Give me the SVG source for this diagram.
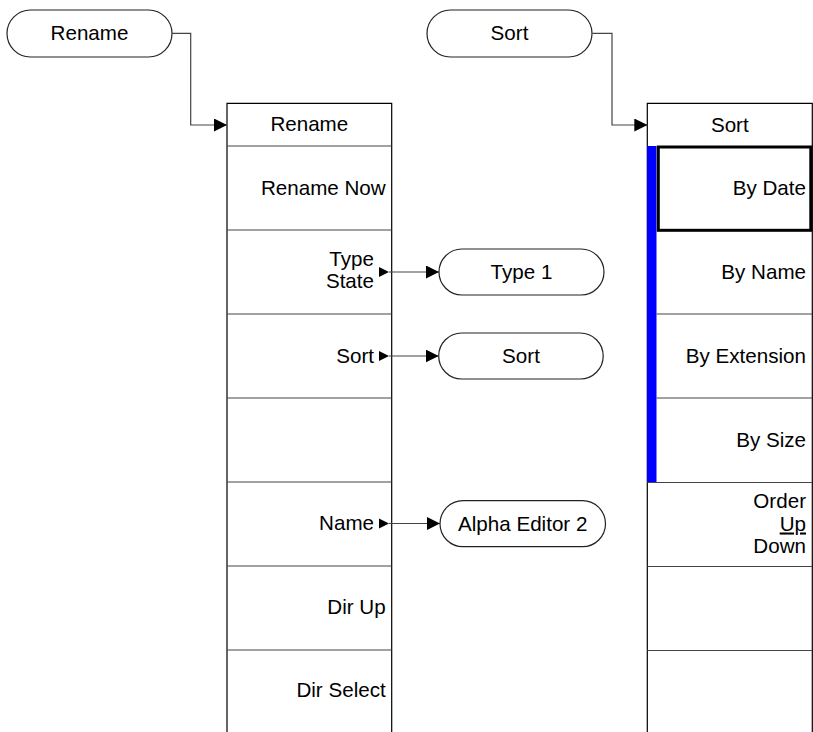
<svg xmlns="http://www.w3.org/2000/svg" width="813" height="732" viewBox="0 0 813 732">
<style>
text{font-family:"Liberation Sans",Arial,sans-serif;font-size:20.6px;fill:#000}
.c{text-anchor:middle}
.r{text-anchor:end}
.pill{fill:#fff;stroke:#222;stroke-width:1.2}
.col{fill:none;stroke:#000;stroke-width:1.2}
.div{stroke:#444;stroke-width:1.2}
.conn{fill:none;stroke:#444;stroke-width:1.2}
.tri{fill:#000}
</style>
<defs>
<marker id="ah" markerWidth="13" markerHeight="13" refX="13" refY="6.5" orient="auto" markerUnits="userSpaceOnUse">
<path d="M0,0 L13,6.5 L0,13 Z" fill="#000"/>
</marker>
</defs>

<g id="pill-rename">
<rect class="pill" x="7" y="10" width="165" height="47" rx="23.5"/>
<text class="c" x="89.5" y="40">Rename</text>
</g>

<g id="pill-sort-top">
<rect class="pill" x="427" y="10" width="165" height="47" rx="23.5"/>
<text class="c" x="509.5" y="40">Sort</text>
</g>

<g id="menu-rename">
<path class="col" d="M227,732 V103.3 H391.7 V732"/>
<line class="div" x1="227" y1="146" x2="391.7" y2="146"/>
<line class="div" x1="227" y1="230" x2="391.7" y2="230"/>
<line class="div" x1="227" y1="314" x2="391.7" y2="314"/>
<line class="div" x1="227" y1="398" x2="391.7" y2="398"/>
<line class="div" x1="227" y1="482" x2="391.7" y2="482"/>
<line class="div" x1="227" y1="566" x2="391.7" y2="566"/>
<line class="div" x1="227" y1="650" x2="391.7" y2="650"/>
<text class="c" x="309.3" y="131">Rename</text>
<text class="r" x="385.7" y="194.5">Rename Now</text>
<text class="r" x="374" y="265.5">Type</text>
<text class="r" x="374" y="288">State</text>
<path class="tri" d="M379,267 L389,272 L379,277 Z"/>
<text class="r" x="374" y="362.5">Sort</text>
<path class="tri" d="M379,351 L389,356 L379,361 Z"/>
<text class="r" x="374" y="530">Name</text>
<path class="tri" d="M379,518.5 L389,523.5 L379,528.5 Z"/>
<text class="r" x="385.7" y="613.5">Dir Up</text>
<text class="r" x="385.7" y="697">Dir Select</text>
</g>

<g id="menu-sort">
<path class="col" d="M647.3,732 V103.3 H812.3 V732"/>
<rect x="647" y="146" width="9.5" height="336" fill="#0000ff"/>
<line class="div" x1="656.5" y1="314" x2="812.3" y2="314"/>
<line class="div" x1="656.5" y1="398" x2="812.3" y2="398"/>
<line class="div" x1="647.3" y1="482.5" x2="812.3" y2="482.5"/>
<line class="div" x1="647.3" y1="566.5" x2="812.3" y2="566.5"/>
<line class="div" x1="647.3" y1="650.5" x2="812.3" y2="650.5"/>
<rect x="658.3" y="147" width="152.5" height="83.3" fill="none" stroke="#000" stroke-width="3"/>
<text class="c" x="729.8" y="131.5">Sort</text>
<text class="r" x="806" y="194.5">By Date</text>
<text class="r" x="806" y="278.5">By Name</text>
<text class="r" x="806" y="362.5">By Extension</text>
<text class="r" x="806" y="446.5">By Size</text>
<text class="r" x="806" y="508">Order</text>
<text class="r" x="806" y="530.5" text-decoration="underline">Up</text>
<text class="r" x="806" y="553">Down</text>
</g>

<g id="pill-type1">
<rect class="pill" x="439" y="249" width="165" height="46" rx="23"/>
<text class="c" x="521.5" y="279">Type 1</text>
</g>

<g id="pill-sort">
<rect class="pill" x="438.7" y="333" width="164.5" height="46" rx="23"/>
<text class="c" x="521" y="363">Sort</text>
</g>

<g id="pill-alpha">
<rect class="pill" x="440" y="500.7" width="165.5" height="46" rx="23"/>
<text class="c" x="522.7" y="530.5">Alpha Editor 2</text>
</g>

<g id="connectors">
<path class="conn" d="M172,33.3 H190.7 V125 H227" marker-end="url(#ah)"/>
<path class="conn" d="M592.3,33.3 H612 V125 H647.3" marker-end="url(#ah)"/>
<path class="conn" d="M389,272 H439" marker-end="url(#ah)"/>
<path class="conn" d="M389,356 H438.7" marker-end="url(#ah)"/>
<path class="conn" d="M389,523.5 H440" marker-end="url(#ah)"/>
</g>
</svg>
